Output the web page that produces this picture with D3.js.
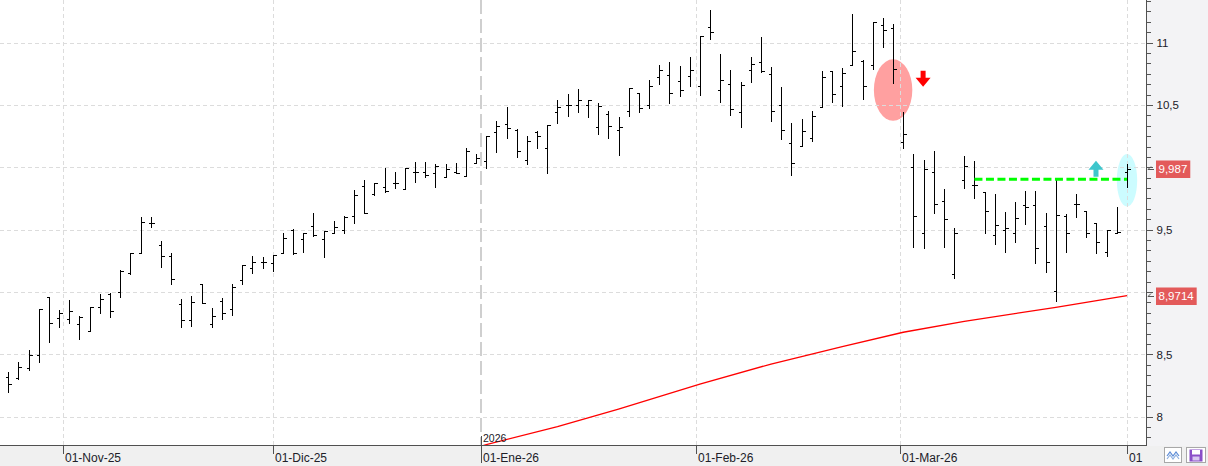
<!DOCTYPE html>
<html><head><meta charset="utf-8">
<script src="https://cdn.jsdelivr.net/npm/d3@7"></script>
<style>
html,body{margin:0;padding:0;background:#fff;overflow:hidden}
svg{display:block;font-family:"Liberation Sans",Arial,sans-serif}
</style></head><body>
<svg id="chart" width="1208" height="466"></svg>
<script>
const dates = ["2025-10-24","2025-10-27","2025-10-28","2025-10-29","2025-10-30","2025-10-31","2025-11-03","2025-11-04","2025-11-05","2025-11-06","2025-11-07","2025-11-10","2025-11-11","2025-11-12","2025-11-13","2025-11-14","2025-11-17","2025-11-18","2025-11-19","2025-11-20","2025-11-21","2025-11-24","2025-11-25","2025-11-26","2025-11-27","2025-11-28","2025-12-01","2025-12-02","2025-12-03","2025-12-04","2025-12-05","2025-12-08","2025-12-09","2025-12-10","2025-12-11","2025-12-12","2025-12-15","2025-12-16","2025-12-17","2025-12-18","2025-12-19","2025-12-22","2025-12-23","2025-12-24","2025-12-29","2025-12-30","2025-12-31","2026-01-02","2026-01-05","2026-01-06","2026-01-07","2026-01-08","2026-01-09","2026-01-12","2026-01-13","2026-01-14","2026-01-15","2026-01-16","2026-01-19","2026-01-20","2026-01-21","2026-01-22","2026-01-23","2026-01-26","2026-01-27","2026-01-28","2026-01-29","2026-01-30","2026-02-02","2026-02-03","2026-02-04","2026-02-05","2026-02-06","2026-02-09","2026-02-10","2026-02-11","2026-02-12","2026-02-13","2026-02-16","2026-02-17","2026-02-18","2026-02-19","2026-02-20","2026-02-23","2026-02-24","2026-02-25","2026-02-26","2026-02-27","2026-03-02","2026-03-03","2026-03-04","2026-03-05","2026-03-06","2026-03-09","2026-03-10","2026-03-11","2026-03-12","2026-03-13","2026-03-16","2026-03-17","2026-03-18","2026-03-19","2026-03-20","2026-03-23","2026-03-24","2026-03-25","2026-03-26","2026-03-27","2026-03-30","2026-03-31","2026-04-01"];

const open = [8.320,8.308,8.388,8.492,8.957,8.789,8.781,8.743,8.685,8.877,
8.981,8.997,9.155,9.310,9.551,9.374,9.286,8.901,8.773,9.062,
8.746,8.925,8.864,9.096,9.190,9.238,9.230,9.315,9.497,9.427,
9.529,9.425,9.476,9.497,9.610,9.850,9.784,9.840,9.872,9.828,
9.965,9.960,9.952,9.920,9.965,9.933,10.032,10.051,10.283,10.347,
10.299,10.059,10.283,10.152,10.441,10.497,10.497,10.500,10.321,10.425,
10.297,10.452,10.594,10.500,10.727,10.740,10.692,10.735,10.652,11.123,
10.620,10.666,10.441,10.778,10.842,10.748,10.497,10.193,10.173,10.233,
10.481,10.772,10.650,10.818,10.853,10.821,11.142,11.115,10.201,10.000,
9.473,9.960,9.727,9.142,9.896,9.856,9.800,9.455,9.495,9.473,
9.698,9.698,9.532,9.008,9.610,9.706,9.652,9.551,9.318,9.476,
9.960];

const high = [8.356,8.441,8.535,8.864,8.957,8.855,8.936,8.807,8.877,8.984,
8.994,9.176,9.313,9.599,9.599,9.409,9.313,8.944,8.968,9.062,
8.872,8.954,9.062,9.216,9.286,9.278,9.297,9.476,9.503,9.476,
9.636,9.492,9.569,9.610,9.818,9.898,9.877,9.992,9.960,9.997,
10.040,10.040,10.024,10.024,10.032,10.152,10.104,10.254,10.371,10.486,
10.305,10.251,10.294,10.339,10.540,10.588,10.626,10.540,10.513,10.452,
10.401,10.634,10.594,10.700,10.821,10.845,10.813,10.885,11.053,11.262,
10.909,10.781,10.682,10.885,11.045,10.805,10.642,10.353,10.388,10.452,
10.772,10.772,10.794,11.227,10.858,11.163,11.195,11.147,10.441,10.104,
10.059,10.131,9.826,9.511,10.091,10.051,9.800,9.786,9.642,9.722,
9.810,9.810,9.631,9.904,9.626,9.786,9.652,9.551,9.497,9.679,
10.027];

const low = [8.200,8.300,8.374,8.441,8.601,8.717,8.754,8.620,8.685,8.834,
8.802,8.962,9.147,9.310,9.524,9.203,9.062,8.722,8.730,8.914,
8.722,8.786,8.813,9.066,9.155,9.190,9.171,9.315,9.302,9.323,
9.452,9.278,9.471,9.471,9.551,9.631,9.778,9.800,9.837,9.824,
9.885,9.925,9.845,9.920,9.952,9.933,10.032,9.997,10.125,10.237,
10.085,10.024,10.157,9.957,10.358,10.414,10.446,10.406,10.265,10.237,
10.101,10.412,10.441,10.478,10.668,10.513,10.574,10.655,10.580,11.029,
10.526,10.420,10.326,10.687,10.767,10.374,10.225,9.941,10.173,10.213,
10.481,10.526,10.492,10.818,10.550,10.786,10.967,10.679,10.152,9.363,
9.355,9.636,9.363,9.110,9.837,9.756,9.476,9.382,9.323,9.403,
9.543,9.235,9.163,8.930,9.323,9.599,9.443,9.315,9.291,9.476,
9.845];

const close = [8.260,8.401,8.492,8.864,8.751,8.829,8.847,8.802,8.877,8.941,
8.845,9.168,9.313,9.559,9.551,9.286,9.102,8.773,8.920,8.914,
8.805,8.829,9.038,9.214,9.238,9.238,9.297,9.431,9.315,9.471,
9.457,9.492,9.519,9.604,9.778,9.631,9.877,9.812,9.872,9.997,
9.965,9.938,10.011,9.984,9.957,10.131,10.072,10.251,10.329,10.313,
10.131,10.211,10.249,10.339,10.484,10.497,10.540,10.540,10.494,10.329,
10.321,10.634,10.473,10.652,10.781,10.594,10.620,10.778,11.053,11.083,
10.700,10.465,10.658,10.826,10.772,10.452,10.299,10.032,10.289,10.409,
10.722,10.586,10.757,10.931,10.650,11.163,11.099,10.789,10.265,9.610,
9.987,9.703,9.583,9.473,10.008,9.856,9.647,9.537,9.511,9.591,
9.679,9.350,9.243,9.618,9.471,9.706,9.471,9.399,9.497,9.484,
9.987];

// moving average (red line), read at selected sessions
const maDates  = ["2025-12-31","2026-01-02","2026-01-13","2026-01-21","2026-02-02","2026-02-11","2026-02-20","2026-03-02","2026-03-10","2026-03-23","2026-04-01"];
const maValues = [7.750,7.776,7.920,8.060,8.260,8.422,8.562,8.677,8.764,8.877,8.9714];

// horizontal resistance (green dashed)
const levelDates  = ["2026-03-11","2026-04-01"];
const levelValue  = 9.904;

// annotations
const ellipseDates  = ["2026-02-27","2026-04-01"];
const ellipseValues = [10.62, 9.896];
const arrowDates  = ["2026-03-04","2026-03-27"];
const arrowValues = [10.647, 10.053];
const arrowDirs   = ["down","up"];

// value tags on the price axis
const tagValues = [9.987, 8.9714];
const tagLabels = ["9,987", "8,9714"];

// axes (labels at 9 and 10 are hidden behind the value tags in the reference)
const yTickValues = [8, 8.5, 9, 9.5, 10, 10.5, 11];
const yTickLabels = ["8", "8,5", "", "9,5", "", "10,5", "11"];
const monthTickDates  = ["2025-11-01","2025-12-01","2026-01-01","2026-02-01","2026-03-01","2026-04-01"];
const monthTickLabels = ["01-Nov-25","01-Dic-25","01-Ene-26","01-Feb-26","01-Mar-26","01"];
const yearMarkDate = "2026-01-01";
const yearMarkLabel = "2026";

// ---------- layout ----------
const W = 1208, H = 466, plotR = 1146, plotB = 445;
const svg = d3.select("#chart");

const x = d3.scalePoint().domain(dates).range([8.3, 1127]);
const y = d3.scaleLinear().domain([7.7727, 11.342]).range([plotB, 0]);
const parse = d3.utcParse("%Y-%m-%d");
function calX(ds) {
  const t = parse(ds).getTime();
  let prev = null, next = null;
  for (const d of dates) {
    const dt = parse(d).getTime();
    if (dt <= t) prev = d;
    if (dt >= t && next === null) next = d;
  }
  if (prev === next) return x(prev);
  const tp = parse(prev).getTime(), tn = parse(next).getTime();
  return x(prev) + (t - tp) / (tn - tp) * (x(next) - x(prev));
}
const px = v => Math.round(v) + 0.5;

svg.append("rect").attr("width", W).attr("height", H).attr("fill", "#fff");
svg.append("defs").append("clipPath").attr("id", "plotclip")
  .append("rect").attr("x", 0).attr("y", 0).attr("width", plotR).attr("height", plotB);

const plot = svg.append("g").attr("clip-path", "url(#plotclip)");

// ellipses
const ellColors = ["#ffa0a0", "#ccfcff"];
const ellR = [[19.2, 30.7], [10.2, 26.3]];
plot.selectAll("ellipse.ann").data(ellipseDates).join("ellipse")
  .attr("cx", (d, i) => x(d)).attr("cy", (d, i) => y(ellipseValues[i]))
  .attr("rx", (d, i) => ellR[i][0]).attr("ry", (d, i) => ellR[i][1])
  .attr("fill", (d, i) => ellColors[i]);

// grid
plot.selectAll("line.hg").data(yTickValues).join("line")
  .attr("x1", 0).attr("x2", plotR).attr("y1", d => px(y(d))).attr("y2", d => px(y(d)))
  .attr("stroke", "#dcdcdc").attr("stroke-dasharray", "4,3").attr("shape-rendering", "crispEdges");
plot.selectAll("line.vg").data(monthTickDates.filter(d => d !== yearMarkDate)).join("line")
  .attr("x1", d => px(calX(d))).attr("x2", d => px(calX(d))).attr("y1", 0).attr("y2", plotB)
  .attr("stroke", "#dcdcdc").attr("stroke-dasharray", "4,3").attr("shape-rendering", "crispEdges");
plot.append("line")
  .attr("x1", Math.round(calX(yearMarkDate))).attr("x2", Math.round(calX(yearMarkDate)))
  .attr("y1", 0).attr("y2", plotB)
  .attr("stroke", "#cfcfcf").attr("stroke-width", 2).attr("stroke-dasharray", "14,5");

// moving average
const ma = maDates.map((d, i) => [x(d), y(maValues[i])]);
plot.append("path").attr("d", d3.line()(ma))
  .attr("fill", "none").attr("stroke", "#ff0000").attr("stroke-width", 1.3);

// OHLC bars
const bars = plot.append("g").attr("stroke", "#000").attr("stroke-width", 1).attr("shape-rendering", "crispEdges");
dates.forEach((d, i) => {
  const cx = px(x(d));
  bars.append("line").attr("x1", cx).attr("x2", cx)
    .attr("y1", Math.round(y(high[i]))).attr("y2", Math.round(y(low[i])) + 1);
  bars.append("line").attr("x1", cx - 3).attr("x2", cx)
    .attr("y1", px(y(open[i]))).attr("y2", px(y(open[i])));
  bars.append("line").attr("x1", cx).attr("x2", cx + 3.5)
    .attr("y1", px(y(close[i]))).attr("y2", px(y(close[i])));
});

// green level
plot.append("line")
  .attr("x1", x(levelDates[0])).attr("x2", x(levelDates[1]))
  .attr("y1", y(levelValue)).attr("y2", y(levelValue))
  .attr("stroke", "#00ff00").attr("stroke-width", 3).attr("stroke-dasharray", "8,3.5");

// arrows
const arrowColors = ["#ff0000", "#3ec6cc"];
arrowDates.forEach((d, i) => {
  const cx = x(d) - 0.5, ty = y(arrowValues[i]);
  const s = arrowDirs[i] === "down" ? -1 : 1;
  const hb = ty + s * 9, st = ty + s * 16;
  const p = `M${cx},${ty} L${cx - 7.5},${hb} L${cx - 2.5},${hb} L${cx - 2.5},${st} L${cx + 2.5},${st} L${cx + 2.5},${hb} L${cx + 7.5},${hb} Z`;
  plot.append("path").attr("d", p).attr("fill", arrowColors[i]);
});

// panels
svg.append("rect").attr("x", plotR + 1).attr("y", 0).attr("width", W - plotR - 1).attr("height", plotB + 1).attr("fill", "#f3f3f5");
svg.append("rect").attr("x", 0).attr("y", plotB + 1).attr("width", W).attr("height", H - plotB - 1).attr("fill", "#f0f0f0");

// right axis
const minorTicks = d3.range(7.8333, 11.34, 0.5 / 6).filter(v => yTickValues.every(t => Math.abs(t - v) > 0.01));
const gMinor = svg.append("g").attr("transform", `translate(${plotR + 0.5},0)`)
  .call(d3.axisRight(y).tickValues(minorTicks).tickSize(4).tickSizeOuter(0).tickFormat(""));
gMinor.select(".domain").remove();
gMinor.selectAll("line").attr("stroke", "#555").attr("shape-rendering", "crispEdges");
const gMajor = svg.append("g").attr("transform", `translate(${plotR + 0.5},0)`)
  .call(d3.axisRight(y).tickValues(yTickValues).tickSize(6).tickPadding(4).tickSizeOuter(0)
    .tickFormat((d, i) => yTickLabels[i]));
gMajor.select(".domain").remove();
gMajor.selectAll("line").attr("stroke", "#555").attr("shape-rendering", "crispEdges");
gMajor.selectAll("text").filter(function () { return this.textContent === ""; }).remove();
gMajor.selectAll("text").attr("font-size", 11.5).attr("fill", "#202028")
  .attr("font-family", "'Liberation Sans',Arial,sans-serif");

svg.append("line").attr("x1", plotR + 0.5).attr("x2", plotR + 0.5).attr("y1", 0).attr("y2", plotB + 1)
  .attr("stroke", "#505050").attr("shape-rendering", "crispEdges");
svg.append("line").attr("x1", 0).attr("x2", plotR + 1).attr("y1", plotB + 0.5).attr("y2", plotB + 0.5)
  .attr("stroke", "#505050").attr("shape-rendering", "crispEdges");

// value tags
tagValues.forEach((v, i) => {
  const cy = y(v);
  const g = svg.append("g");
  const t = g.append("text").attr("x", 1158.5).attr("y", cy).attr("dy", "0.36em")
    .attr("font-size", 11.5).attr("fill", "#fff").text(tagLabels[i]);
  const w = t.node().getComputedTextLength();
  g.insert("rect", "text").attr("x", 1156).attr("y", Math.round(cy) - 8.5)
    .attr("width", w + 5.5).attr("height", 17.5).attr("fill", "#e35a5a");
  svg.append("path").attr("d", `M1154,${px(cy)} H1148 L1151,${px(cy) - 3}`)
    .attr("fill", "none").attr("stroke", "#555").attr("stroke-width", 1);
});

// bottom axis
monthTickDates.forEach((d, i) => {
  const xx = px(calX(d));
  const isYear = d === yearMarkDate;
  svg.append("line").attr("x1", xx).attr("x2", xx)
    .attr("y1", isYear ? 436 : plotB).attr("y2", isYear ? 463 : 454)
    .attr("stroke", "#505050").attr("shape-rendering", "crispEdges");
  svg.append("text").attr("x", xx + 1.5).attr("y", 462)
    .attr("font-size", 12).attr("fill", "#202028").text(monthTickLabels[i]);
});
svg.append("text").attr("x", px(calX(yearMarkDate)) + 1.5).attr("y", 442)
  .attr("font-size", 10.5).attr("fill", "#202028").text(yearMarkLabel);

// toolbar icons
const ic = svg.append("g");
ic.append("rect").attr("x", 1164.5).attr("y", 447.5).attr("width", 17).attr("height", 15)
  .attr("fill", "#fff").attr("stroke", "#a8a8a8");
ic.append("polyline").attr("points", "1167,456 1170,452 1173,456 1176,452 1179,456")
  .attr("fill", "none").attr("stroke", "#5a8ad6").attr("stroke-width", 1.2);
ic.append("polyline").attr("points", "1167,459 1170,455 1173,459 1176,455 1179,459")
  .attr("fill", "none").attr("stroke", "#8fb0e0").attr("stroke-width", 1.2);
ic.append("rect").attr("x", 1186.5).attr("y", 447.5).attr("width", 19).attr("height", 15)
  .attr("fill", "#fff").attr("stroke", "#a8a8a8");
ic.append("rect").attr("x", 1189.5).attr("y", 449.5).attr("width", 13).attr("height", 12).attr("fill", "#8a4fc8");
ic.append("rect").attr("x", 1192).attr("y", 450).attr("width", 8).attr("height", 4.5).attr("fill", "#fff");
ic.append("rect").attr("x", 1192.5).attr("y", 456.5).attr("width", 7).attr("height", 4).attr("fill", "#d8c8f0");
</script>
</body></html>
